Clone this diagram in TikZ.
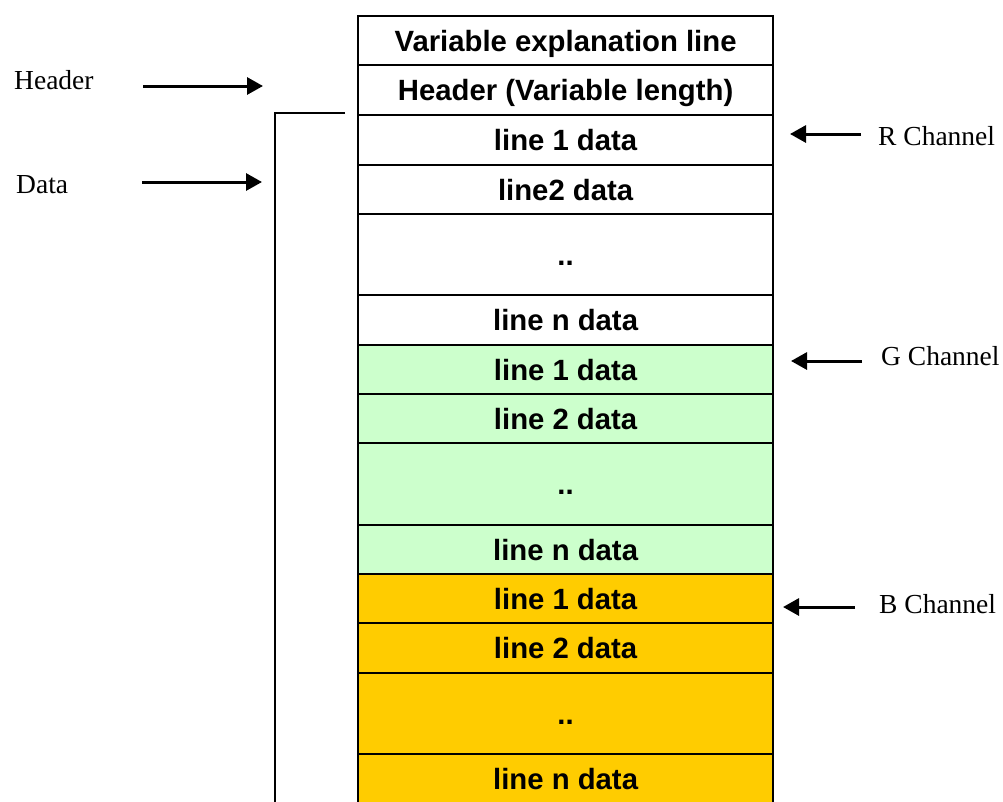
\documentclass[tikz,border=0pt]{standalone}
\usepackage{fontspec}
\setmainfont{Liberation Serif}
\newfontfamily\cellfont{Liberation Sans}
\usetikzlibrary{arrows.meta}
\definecolor{gfill}{HTML}{CCFFCC}
\definecolor{bfill}{HTML}{FFCC00}
\tikzset{
  cell/.style={draw=black, line width=2.2pt, anchor=north west, inner sep=0pt,
    minimum width=415pt, text height=21.3pt, text depth=0pt,
    font=\cellfont\bfseries\fontsize{29.3}{33}\selectfont},
  lbl/.style={inner sep=0pt, anchor=base west, font=\fontsize{27.5}{32}\selectfont},
  arr/.style={line width=3pt, -{Triangle[length=16pt,width=17pt]}},
  brk/.style={line width=2.2pt}
}
\begin{document}
\begin{tikzpicture}[x=1pt,y=-1pt]
\useasboundingbox (0,0) rectangle (1003,801);
% table rows
\node[cell, minimum height=49pt] (r1) at (357,15) {Variable explanation line};
\node[cell, minimum height=50pt] (r2) at (357,64) {Header (Variable length)};
\node[cell, minimum height=50pt] (r3) at (357,114) {line 1 data};
\node[cell, minimum height=49pt] (r4) at (357,164) {line2 data};
\node[cell, minimum height=81pt] (r5) at (357,213) {..};
\node[cell, minimum height=50pt] (r6) at (357,294) {line n data};
\node[cell, fill=gfill, minimum height=49pt] (g1) at (357,344) {line 1 data};
\node[cell, fill=gfill, minimum height=49pt] (g2) at (357,393) {line 2 data};
\node[cell, fill=gfill, minimum height=82pt] (g3) at (357,442) {..};
\node[cell, fill=gfill, minimum height=49pt] (g4) at (357,524) {line n data};
\node[cell, fill=bfill, minimum height=49pt] (b1) at (357,573) {line 1 data};
\node[cell, fill=bfill, minimum height=50pt] (b2) at (357,622) {line 2 data};
\node[cell, fill=bfill, minimum height=81pt] (b3) at (357,672) {..};
\node[cell, fill=bfill, minimum height=50pt] (b4) at (357,753) {line n data};
% left labels
\node[lbl] (hl) at (14,89) {Header};
\node[lbl] (dl) at (16,193) {Data};
\coordinate (ha1) at (143,86);
\coordinate (ha2) at (263,86);
\coordinate (da1) at (142,182);
\coordinate (da2) at (262,182);
\draw[arr] (ha1) -- (ha2);
\draw[arr] (da1) -- (da2);
% bracket line
\coordinate (k1) at (345,113);
\coordinate (k2) at (275,113);
\coordinate (k3) at (275,806);
\draw[brk] (k1) -- (k2) -- (k3);
% right labels
\node[lbl] (rl) at (878,145) {R Channel};
\node[lbl] (gl) at (881,365) {G Channel};
\node[lbl] (bl) at (879,613) {B Channel};
\coordinate (ra1) at (861,134);
\coordinate (ra2) at (790,134);
\coordinate (ga1) at (862,361);
\coordinate (ga2) at (791,361);
\coordinate (ba1) at (855,607);
\coordinate (ba2) at (783,607);
\draw[arr] (ra1) -- (ra2);
\draw[arr] (ga1) -- (ga2);
\draw[arr] (ba1) -- (ba2);
\end{tikzpicture}
\end{document}
